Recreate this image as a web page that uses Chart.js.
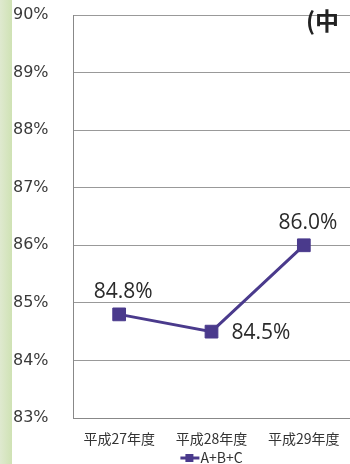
<!DOCTYPE html>
<html lang="ja">
<head>
<meta charset="UTF-8">
<title>A+B+C</title>
<script src="https://cdn.jsdelivr.net/npm/chart.js"></script>
<style>
  html, body { margin: 0; padding: 0; background: #fff; overflow: hidden; }
  #wrap { position: relative; width: 350px; height: 464px; overflow: hidden; }
  #chart { display: block; }
  .strip { position: absolute; left: 0; top: 0; width: 12px; height: 464px;
           background: linear-gradient(to right, #dfe9cf, #cfe2b4); }
  .corner { position: absolute; left: 306px; top: 2px; line-height: 1.2; white-space: nowrap;
            font: bold 24px "Noto Sans CJK JP", sans-serif; color: #222; }
</style>
</head>
<body>
<div id="wrap">
  <div class="strip"></div>
  <canvas id="chart" width="350" height="464"></canvas>
  <div class="corner">(中</div>
</div>
<script>
const categories = ['平成27年度', '平成28年度', '平成29年度'];
const seriesName = 'A+B+C';
const values = [84.8, 84.5, 86.0];
const valueLabels = ['84.8%', '84.5%', '86.0%'];
const yTicks = [83, 84, 85, 86, 87, 88, 89, 90];

const purple = '#4a3a8c';

// value labels next to points
const pointLabels = {
  id: 'pointLabels',
  afterDatasetsDraw(chart) {
    const ctx = chart.ctx;
    const meta = chart.getDatasetMeta(0);
    ctx.save();
    ctx.font = '21px "Open Sans", sans-serif';
    ctx.fillStyle = '#2a2a2a';
    ctx.textBaseline = 'middle';
    meta.data.forEach((pt, i) => {
      if (i === 1) {
        ctx.textAlign = 'left';
        ctx.fillText(valueLabels[i], pt.x + 20, pt.y + 1);
      } else {
        ctx.textAlign = 'center';
        ctx.fillText(valueLabels[i], pt.x + 4, pt.y - 22);
      }
    });
    ctx.restore();
  }
};

// legend drawn under the plot, centred on the chart area
const bottomLegend = {
  id: 'bottomLegend',
  afterDraw(chart) {
    const ctx = chart.ctx;
    const area = chart.chartArea;
    const y = 458;
    ctx.save();
    ctx.font = '14px "Noto Sans CJK JP", sans-serif';
    const tw = ctx.measureText(seriesName).width;
    const total = 20 + tw;
    const x0 = (area.left + area.right) / 2 - total / 2;
    ctx.strokeStyle = purple;
    ctx.lineWidth = 3;
    ctx.beginPath();
    ctx.moveTo(x0, y);
    ctx.lineTo(x0 + 19, y);
    ctx.stroke();
    ctx.fillStyle = purple;
    ctx.fillRect(x0 + 5, y - 4, 8, 8);
    ctx.fillStyle = '#333';
    ctx.textBaseline = 'middle';
    ctx.textAlign = 'left';
    ctx.fillText(seriesName, x0 + 20, y);
    ctx.restore();
  }
};

new Chart(document.getElementById('chart'), {
  type: 'line',
  data: {
    labels: categories,
    datasets: [{
      label: seriesName,
      data: values,
      borderColor: purple,
      backgroundColor: purple,
      borderWidth: 3,
      pointStyle: 'rect',
      pointRadius: 9,
      pointBorderWidth: 1,
      pointBackgroundColor: purple,
      pointBorderColor: purple,
      tension: 0
    }]
  },
  options: {
    responsive: false,
    animation: false,
    layout: { autoPadding: false, padding: { top: 15, right: 0, left: 13, bottom: 12 } },
    plugins: {
      tooltip: { enabled: false },
      legend: { display: false }
    },
    scales: {
      x: {
        offset: true,
        grid: { display: false, tickLength: 12 },
        border: { color: '#888' },
        afterFit(scale) {
          scale.height = 34;
          scale.paddingLeft = 0;
          scale.paddingRight = 0;
        },
        ticks: {
          color: '#333',
          padding: 0,
          maxRotation: 0,
          font: { family: '"Noto Sans CJK JP", sans-serif', size: 14 }
        }
      },
      y: {
        min: yTicks[0],
        max: yTicks[yTicks.length - 1],
        afterBuildTicks(axis) { axis.ticks = yTicks.map(v => ({ value: v })); },
        afterFit(scale) { scale.width = 60; },
        grid: { color: '#999', drawTicks: false, lineWidth: 1 },
        border: { color: '#888' },
        ticks: {
          color: '#3a3a3a',
          padding: 0,
          crossAlign: 'far',
          font: { family: '"DejaVu Sans", sans-serif', size: 16 },
          callback: v => v + '%'
        }
      }
    }
  },
  plugins: [pointLabels, bottomLegend]
});
</script>
</body>
</html>
